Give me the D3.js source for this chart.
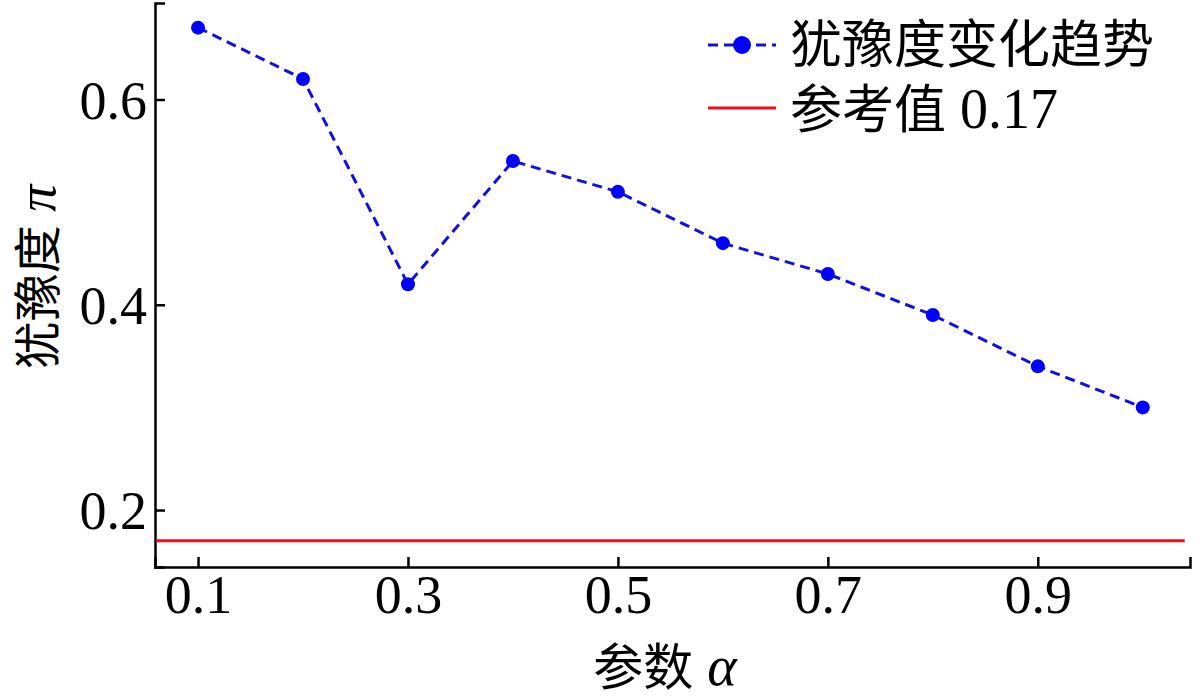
<!DOCTYPE html>
<html><head><meta charset="utf-8">
<script src="https://cdn.jsdelivr.net/npm/d3@7"></script>
<style>body{margin:0;background:#fff}svg{display:block}</style>
</head><body>
<svg id="c" width="1200" height="699"></svg>
<script>
const alphas = [0.1,0.2,0.3,0.4,0.5,0.6,0.7,0.8,0.9,1.0];
const hesitation = [0.67,0.62,0.42,0.54,0.51,0.46,0.43,0.39,0.34,0.30];
const refValue = 0.17;
const xTicks = [0.1,0.3,0.5,0.7,0.9];
const yTicks = [0.2,0.4,0.6];
const legendLabels = ["犹豫度变化趋势","参考值 0.17"];

const svg = d3.select("#c");
const L=155, R=1190, T=3, B=567;
const x = d3.scaleLinear().domain([0.059,1.045]).range([L,R]);
const y = d3.scaleLinear().domain([0.1445,0.694]).range([B,T]);
const serif = "'Liberation Serif','Times New Roman',serif";
const cjk = "'Noto Sans CJK SC',sans-serif";

// axes
const xa = svg.append("g").attr("transform",`translate(0,${B})`)
  .call(d3.axisBottom(x).tickValues(xTicks).tickSizeInner(-10).tickSizeOuter(-10).tickPadding(8).tickFormat(d3.format(".1f")));
const ya = svg.append("g").attr("transform",`translate(${L},0)`)
  .call(d3.axisLeft(y).tickValues(yTicks).tickSizeInner(-10).tickSizeOuter(-10).tickPadding(8).tickFormat(d3.format(".1f")));
[xa,ya].forEach(a=>{
  a.selectAll("path,line").attr("stroke","#000").attr("stroke-width",2.5);
  a.selectAll("text").attr("font-family",serif).attr("font-size",54).attr("fill","#000");
});
xa.selectAll("text").attr("dy","0.71em");
ya.selectAll("text").attr("dy","0.35em");

// reference line
svg.append("line").attr("x1",L+1).attr("x2",x(1.04)).attr("y1",y(refValue)).attr("y2",y(refValue))
  .attr("stroke","#e8101a").attr("stroke-width",3);

// series
const line = d3.line().x((d,i)=>x(alphas[i])).y(d=>y(d));
svg.append("path").datum(hesitation).attr("d",line).attr("fill","none")
  .attr("stroke","#1010e0").attr("stroke-width",3).attr("stroke-dasharray","10,6");
svg.selectAll("circle.pt").data(hesitation).enter().append("circle").attr("class","pt")
  .attr("cx",(d,i)=>x(alphas[i])).attr("cy",d=>y(d)).attr("r",7).attr("fill","#0000ff");

// legend
const lg = svg.append("g");
lg.append("line").attr("x1",708).attr("x2",776).attr("y1",45).attr("y2",45)
  .attr("stroke","#1010e0").attr("stroke-width",3).attr("stroke-dasharray","10,6");
lg.append("circle").attr("cx",742).attr("cy",45).attr("r",9).attr("fill","#0000ff");
lg.append("line").attr("x1",708).attr("x2",776).attr("y1",108).attr("y2",108)
  .attr("stroke","#e8101a").attr("stroke-width",3);
lg.append("text").attr("x",790).attr("y",63).attr("font-family",cjk).attr("font-size",52).attr("fill","#000").text(legendLabels[0]);
const t2 = lg.append("text").attr("x",790).attr("y",128).attr("font-size",52).attr("fill","#000");
t2.append("tspan").attr("font-family",cjk).text("参考值");
t2.append("tspan").attr("font-family",serif).attr("font-size",56).text(" 0.17");

// axis titles
const xt = svg.append("text").attr("x",665).attr("y",685).attr("text-anchor","middle").attr("font-size",50).attr("fill","#000");
xt.append("tspan").attr("font-family",cjk).text("参数");
xt.append("tspan").attr("font-family",serif).attr("font-style","italic").attr("font-size",56).text(" α");
const yt = svg.append("text").attr("transform","translate(55,277) rotate(-90)").attr("text-anchor","middle").attr("font-size",48).attr("fill","#000");
yt.append("tspan").attr("font-family",cjk).text("犹豫度");
yt.append("tspan").attr("font-family",serif).attr("font-style","italic").attr("font-size",54).text(" π");
</script>
</body></html>
